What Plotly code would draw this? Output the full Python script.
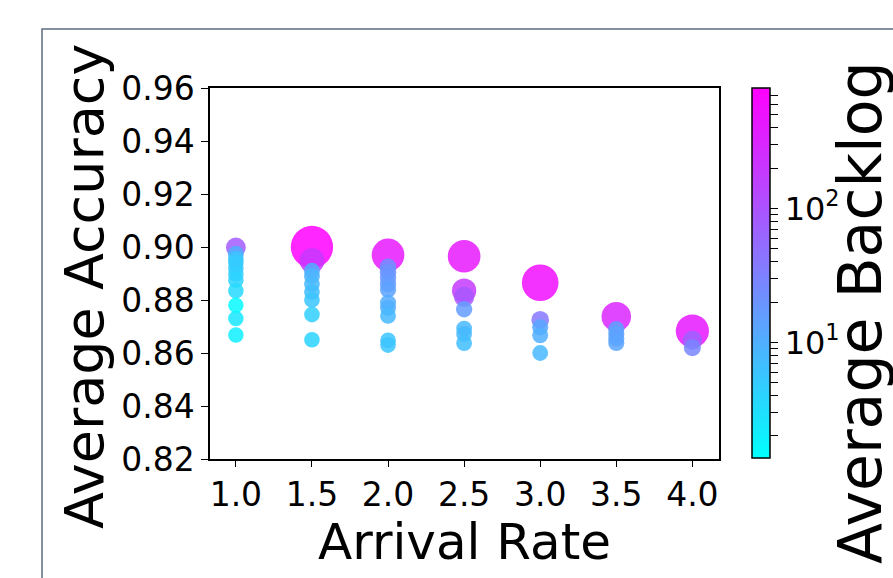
import numpy as np
import plotly.graph_objects as go

# ---- data ----
arrival_rate = (
    [1.0] * 11 + [1.5] * 9 + [2.0] * 11 + [2.5] * 7 + [3.0] * 5 + [3.5] * 5 + [4.0] * 3
)
avg_accuracy = [
    0.8998, 0.8975, 0.8955, 0.8940, 0.8920, 0.8898, 0.8875, 0.8835, 0.8780, 0.8730, 0.8668,
    0.9000, 0.8949, 0.8910, 0.8890, 0.8860, 0.8830, 0.8800, 0.8745, 0.8650,
    0.8970, 0.8925, 0.8905, 0.8885, 0.8860, 0.8840, 0.8790, 0.8770, 0.8740, 0.8648, 0.8630,
    0.8965, 0.8835, 0.8812, 0.8765, 0.8692, 0.8672, 0.8637,
    0.8865, 0.8725, 0.8697, 0.8667, 0.8600,
    0.8737, 0.8690, 0.8672, 0.8655, 0.8638,
    0.8683, 0.8648, 0.8620,
]
avg_backlog = [
    80, 10, 6, 5, 5, 4.5, 4, 3.5, 1.6, 2.5, 2.0,
    787, 200, 10, 9, 8, 7, 6, 4.5, 4,
    420, 22, 20, 18, 16, 14, 11, 10, 8, 6, 6,
    420, 180, 90, 16, 8, 8, 7,
    560, 40, 12, 10, 8,
    320, 14, 14, 14, 13,
    440, 70, 28,
]
x_ticks = [1.0, 1.5, 2.0, 2.5, 3.0, 3.5, 4.0]
x_tick_labels = ["1.0", "1.5", "2.0", "2.5", "3.0", "3.5", "4.0"]
y_ticks = [0.82, 0.84, 0.86, 0.88, 0.90, 0.92, 0.94, 0.96]
y_tick_labels = ["0.82", "0.84", "0.86", "0.88", "0.90", "0.92", "0.94", "0.96"]
backlog_min, backlog_max = 1.37, 791

# ---- derived ----
x = np.array(arrival_rate)
y = np.array(avg_accuracy)
b = np.array(avg_backlog, dtype=float)
order = np.argsort(-b, kind="stable")  # large backlog drawn first
x, y, b = x[order], y[order], b[order]
sizes = np.sqrt(235 + 1.98 * b)
cvals = np.log10(b)

cb_vals, cb_text = [], []
for dec in [0, 1, 2]:
    for m in range(1, 10):
        v = m * 10 ** dec
        if backlog_min <= v <= backlog_max:
            cb_vals.append(np.log10(v))
            cb_text.append(f"10<sup>{dec}</sup>" if m == 1 else "")

FONT = "DejaVu Sans"
cool = [[0, "rgb(0,255,255)"], [1, "rgb(255,0,255)"]]

W, H = 893, 578
L, R, T, B = 210, 174, 88, 119
pw, ph = W - L - R, H - T - B


def px2x(p):
    return (p - L) / pw


def px2y(p):
    return (H - B - p) / ph


fig = go.Figure()
fig.add_trace(
    go.Scatter(
        x=x,
        y=y,
        mode="markers",
        marker=dict(
            size=sizes,
            sizemode="diameter",
            color=cvals,
            colorscale=cool,
            cmin=np.log10(backlog_min),
            cmax=np.log10(backlog_max),
            opacity=0.85,
            line=dict(width=0),
            colorbar=dict(
                x=px2x(752),
                xanchor="left",
                y=px2y(273),
                yanchor="middle",
                len=370,
                lenmode="pixels",
                thickness=18,
                thicknessmode="pixels",
                outlinewidth=1.5,
                outlinecolor="black",
                ticks="outside",
                ticklen=8,
                tickwidth=1,
                tickcolor="black",
                tickvals=cb_vals,
                ticktext=cb_text,
                tickfont=dict(family=FONT, size=32, color="black"),
                xpad=0,
                ypad=0,
                borderwidth=0,
            ),
        ),
        showlegend=False,
        hoverinfo="skip",
    )
)

axis_common = dict(
    showline=True,
    linecolor="black",
    linewidth=1.5,
    mirror=True,
    ticks="outside",
    tickcolor="black",
    tickwidth=1.3,
    showgrid=False,
    zeroline=False,
    tickfont=dict(family=FONT, size=33, color="black"),
)
fig.update_xaxes(range=[0.83, 4.175], tickvals=x_ticks, ticktext=x_tick_labels, ticklen=6, **axis_common)
fig.update_yaxes(range=[0.82, 0.96], tickvals=y_ticks, ticktext=y_tick_labels, ticklen=7, **axis_common)

fig.update_layout(
    width=W,
    height=H,
    margin=dict(l=L, r=R, t=T, b=B, autoexpand=False),
    paper_bgcolor="white",
    plot_bgcolor="white",
    font=dict(family=FONT, color="black"),
    shapes=[
        dict(
            type="rect",
            xref="paper",
            yref="paper",
            x0=px2x(42),
            x1=px2x(1000),
            y0=px2y(700),
            y1=px2y(29),
            line=dict(color="#5c6b80", width=1.5),
            fillcolor="rgba(0,0,0,0)",
            layer="below",
        )
    ],
    annotations=[
        dict(
            text="Average Accuracy",
            xref="paper",
            yref="paper",
            x=px2x(84),
            y=px2y(287),
            xanchor="center",
            yanchor="middle",
            textangle=-90,
            showarrow=False,
            font=dict(family=FONT, size=54, color="black"),
        ),
        dict(
            text="Arrival Rate",
            xref="paper",
            yref="paper",
            x=px2x(464.5),
            y=px2y(542),
            xanchor="center",
            yanchor="middle",
            showarrow=False,
            font=dict(family=FONT, size=50, color="black"),
        ),
        dict(
            text="Average Backlog",
            xref="paper",
            yref="paper",
            x=px2x(860),
            y=px2y(313),
            xanchor="center",
            yanchor="middle",
            textangle=-90,
            showarrow=False,
            font=dict(family=FONT, size=60, color="black"),
        ),
    ],
)

fig.write_html(
    "out.html",
    config={"displayModeBar": False},
    post_script="document.body.style.margin='0';",
)
